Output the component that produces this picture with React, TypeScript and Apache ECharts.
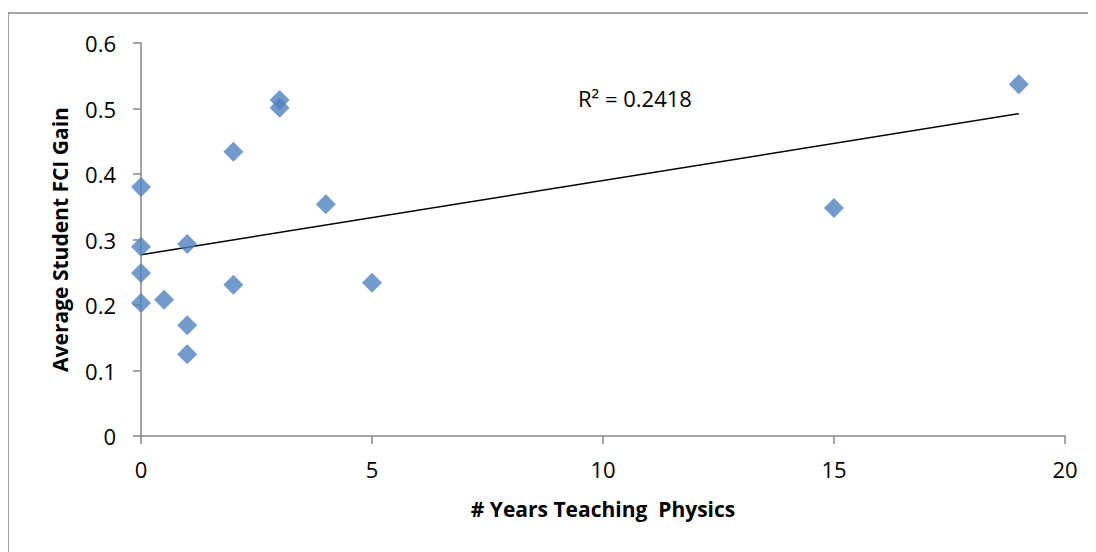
import React, { useEffect, useRef } from "react";
import * as echarts from "echarts";

const yearsTeaching: number[] = [0, 0, 0, 0, 0.5, 1, 1, 1, 2, 2, 3, 3, 4, 5, 15, 19];
const fciGain: number[] = [0.38, 0.289, 0.249, 0.203, 0.208, 0.293, 0.169, 0.125, 0.434, 0.231, 0.513, 0.501, 0.354, 0.234, 0.348, 0.537];
const xTicks: number[] = [0, 5, 10, 15, 20];
const yTicks: number[] = [0, 0.1, 0.2, 0.3, 0.4, 0.5, 0.6];
const rSquaredLabel = "R² = 0.2418";
const xTitle = "# Years Teaching  Physics";
const yTitle = "Average Student FCI Gain";

function linearFit(xs: number[], ys: number[]) {
  const n = xs.length;
  const mx = xs.reduce((a, b) => a + b, 0) / n;
  const my = ys.reduce((a, b) => a + b, 0) / n;
  let sxy = 0;
  let sxx = 0;
  for (let i = 0; i < n; i++) {
    sxy += (xs[i] - mx) * (ys[i] - my);
    sxx += (xs[i] - mx) * (xs[i] - mx);
  }
  const slope = sxy / sxx;
  return { slope, intercept: my - slope * mx };
}

export default function App() {
  const ref = useRef<HTMLDivElement>(null);
  useEffect(() => {
    if (!ref.current) return;
    document.body.style.overflow = "hidden";
    document.documentElement.style.overflow = "hidden";
    const chart = echarts.init(ref.current, null, { renderer: "svg" });
    const fit = linearFit(yearsTeaching, fciGain);
    const xMin = Math.min(...yearsTeaching);
    const xMax = Math.max(...yearsTeaching);
    const trend = [
      [xMin, fit.intercept + fit.slope * xMin],
      [xMax, fit.intercept + fit.slope * xMax],
    ];
    const font = "'Open Sans', sans-serif";
    const axisColor = "#868686";
    chart.setOption({
      animation: false,
      backgroundColor: "#ffffff",
      textStyle: { fontFamily: font },
      grid: { left: 133, right: 23, top: 35, bottom: 116 },
      graphic: [
        {
          type: "line",
          shape: { x1: 0, y1: 5, x2: 1200, y2: 5 },
          style: { stroke: axisColor, lineWidth: 1.5 },
          silent: true,
        },
        {
          type: "line",
          shape: { x1: 0, y1: 5, x2: 0, y2: 700 },
          style: { stroke: axisColor, lineWidth: 1.5 },
          silent: true,
        },
        {
          type: "text",
          left: 570,
          top: 79,
          style: { text: rSquaredLabel, font: `22px ${font}`, fill: "#000" },
        },
      ],
      xAxis: {
        type: "value",
        min: xTicks[0],
        max: xTicks[xTicks.length - 1],
        interval: xTicks[1] - xTicks[0],
        splitLine: { show: false },
        axisLine: { show: true, onZero: false, lineStyle: { color: axisColor, width: 1.5 } },
        axisTick: { show: true, length: 8, lineStyle: { color: axisColor, width: 1.5 } },
        axisLabel: { color: "#000", fontSize: 22, fontFamily: font, margin: 22 },
        name: xTitle,
        nameLocation: "middle",
        nameGap: 62,
        nameTextStyle: { color: "#000", fontSize: 21, fontWeight: "bold", fontFamily: font },
      },
      yAxis: {
        type: "value",
        min: yTicks[0],
        max: yTicks[yTicks.length - 1],
        interval: 0.1,
        splitLine: { show: false },
        axisLine: { show: true, lineStyle: { color: axisColor, width: 1.5 } },
        axisTick: { show: true, length: 8, lineStyle: { color: axisColor, width: 1.5 } },
        axisLabel: {
          color: "#000",
          fontSize: 22,
          fontFamily: font,
          margin: 25,
          formatter: (v: number) => String(Math.round(v * 10) / 10),
        },
        name: yTitle,
        nameLocation: "middle",
        nameGap: 71,
        nameTextStyle: { color: "#000", fontSize: 21, fontWeight: "bold", fontFamily: font },
      },
      series: [
        {
          type: "line",
          data: trend,
          showSymbol: false,
          symbol: "none",
          lineStyle: { color: "#000", width: 1.5 },
          z: 3,
        },
        {
          type: "scatter",
          data: yearsTeaching.map((x, i) => [x, fciGain[i]]),
          symbol: "diamond",
          symbolSize: 20,
          itemStyle: { color: "#4F81BD" },
          z: 4,
        },
      ],
    });
    return () => chart.dispose();
  }, []);
  return <div ref={ref} style={{ width: 1080, height: 544 }} />;
}
